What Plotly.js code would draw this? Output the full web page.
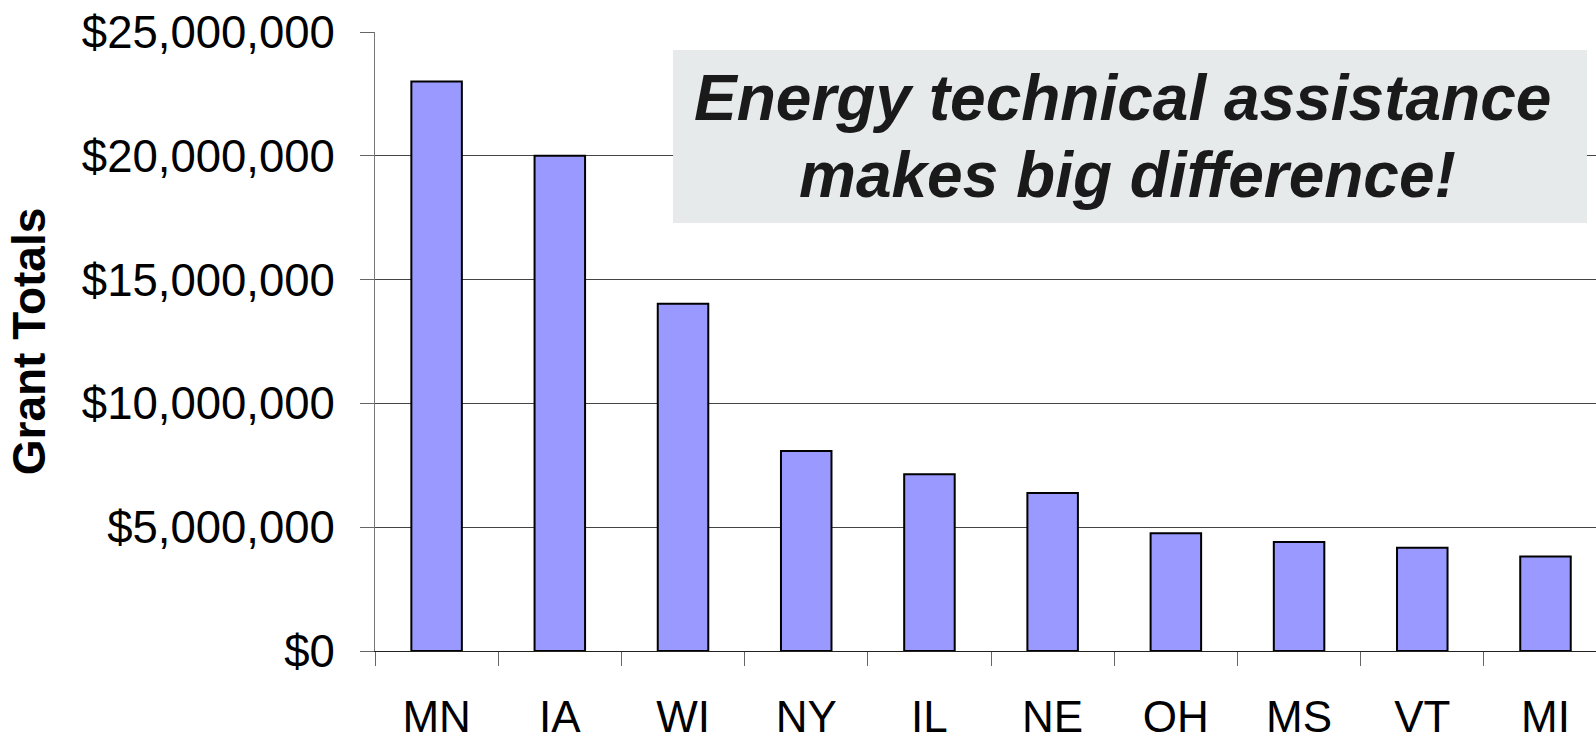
<!DOCTYPE html>
<html>
<head>
<meta charset="utf-8">
<script src="https://cdn.plot.ly/plotly-3.0.1.min.js"></script>
<style>
  html, body { margin: 0; padding: 0; background: #ffffff; }
  #chart { width: 1596px; height: 735px; }
</style>
</head>
<body>
<div id="chart"></div>
<script>
// ---- Data ----
const states = ["MN", "IA", "WI", "NY", "IL", "NE", "OH", "MS", "VT", "MI"];
const grantTotals = [23000000, 20000000, 14020000, 8080000, 7140000, 6380000, 4760000, 4400000, 4170000, 3820000];
const yTickValues = [0, 5000000, 10000000, 15000000, 20000000, 25000000];
const yAxisTitle = "Grant Totals";
const calloutLine1 = "Energy technical assistance";
const calloutLine2 = "makes big difference!";

const FONT = "Liberation Sans, Arial, sans-serif";

const trace = {
  type: "bar",
  x: states,
  y: grantTotals,
  marker: { color: "#9999FF", line: { color: "#000000", width: 2 } },
  hoverinfo: "x+y"
};

const layout = {
  width: 1596,
  height: 735,
  margin: { l: 375, r: 0, t: 32, b: 84, pad: 0 },
  paper_bgcolor: "#ffffff",
  plot_bgcolor: "#ffffff",
  showlegend: false,
  bargap: 0.59,
  font: { family: FONT, color: "#000000" },
  xaxis: {
    type: "category",
    range: [-0.5, 9.41],
    tickson: "boundaries",
    ticks: "outside",
    ticklen: 14,
    tickwidth: 1,
    tickcolor: "#666666",
    showgrid: false,
    showline: true,
    linecolor: "#222222",
    linewidth: 1,
    tickfont: { family: FONT, size: 44, color: "#000000" },
    ticklabelstandoff: 27,
    automargin: false,
    fixedrange: true
  },
  yaxis: {
    range: [0, 25000000],
    tickvals: yTickValues,
    tickformat: "$,.0f",
    ticks: "outside",
    ticklen: 14,
    tickwidth: 1,
    tickcolor: "#666666",
    showgrid: true,
    gridcolor: "#444444",
    gridwidth: 1,
    zeroline: false,
    showline: true,
    linecolor: "#777777",
    linewidth: 1,
    tickfont: { family: FONT, size: 45.5, color: "#000000" },
    ticklabelstandoff: 16,
    automargin: false,
    fixedrange: true,
    title: {
      text: "<b>" + yAxisTitle + "</b>",
      font: { family: FONT, size: 46, color: "#000000" },
      standoff: 21
    }
  },
  shapes: [
    {
      type: "rect",
      xref: "paper", yref: "paper",
      x0: 0.2441, x1: 0.9926,
      y0: 0.6914, y1: 0.9709,
      fillcolor: "#E6EAEB",
      line: { width: 0 },
      layer: "above"
    }
  ],
  annotations: [
    {
      xref: "paper", yref: "paper",
      x: 0.6126, y: 0.8934,
      xanchor: "center", yanchor: "middle",
      showarrow: false,
      text: "<b><i>" + calloutLine1 + "</i></b>",
      font: { family: FONT, size: 64, color: "#1a1a1a" }
    },
    {
      xref: "paper", yref: "paper",
      x: 0.6159, y: 0.769,
      xanchor: "center", yanchor: "middle",
      showarrow: false,
      text: "<b><i>" + calloutLine2 + "</i></b>",
      font: { family: FONT, size: 64, color: "#1a1a1a" }
    }
  ]
};

Plotly.newPlot("chart", [trace], layout, { displayModeBar: false, staticPlot: true });
</script>
</body>
</html>
